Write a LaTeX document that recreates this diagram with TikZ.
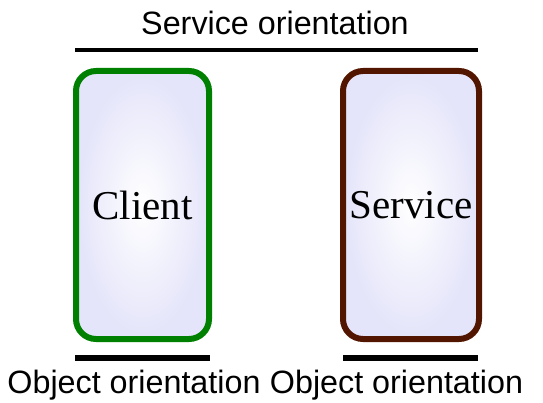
\documentclass[tikz,border=0pt]{standalone}
\usepackage{fontspec}
\setmainfont{Liberation Serif}
\newfontfamily\labelfont{Liberation Sans}
\definecolor{clientgreen}{RGB}{0,128,0}
\definecolor{servicebrown}{RGB}{82,22,0}
\definecolor{lavender}{RGB}{228,228,250}
\tikzset{
  part/.style={draw, line width=6pt, rounded corners=20pt, shade,
    inner color=white, outer color=lavender, font=\fontsize{41}{45}\selectfont,
    inner sep=0pt},
  bar/.style={line width=#1, black},
  caption/.style={font=\labelfont\fontsize{32.3}{36}\selectfont, anchor=base, inner sep=0pt}
}
\begin{document}
\begin{tikzpicture}[x=1pt, y=-1pt]
  \useasboundingbox (0,0) rectangle (543,403);
  % the two parties
  \node[part, draw=clientgreen, minimum width=133pt, minimum height=268pt] (client) at (142.5,205) {Client};
  \node[part, draw=servicebrown, minimum width=136pt, minimum height=268pt] (service) at (411,205) {Service};
  % service orientation spans both parties
  \coordinate (soL) at (75,50);
  \coordinate (soR) at (478,50);
  \draw[bar=4.5pt] (soL) -- (soR);
  \node[caption] (so) at (275,35) {Service orientation};
  % object orientation within each party
  \coordinate (ooLa) at (75,358);
  \coordinate (ooLb) at (210,358);
  \coordinate (ooRa) at (343,358);
  \coordinate (ooRb) at (478,358);
  \draw[bar=6pt] (ooLa) -- (ooLb);
  \draw[bar=6pt] (ooRa) -- (ooRb);
  \node[caption] (ooL) at (134,393) {Object orientation};
  \node[caption] (ooR) at (396.5,393) {Object orientation};
\end{tikzpicture}
\end{document}
